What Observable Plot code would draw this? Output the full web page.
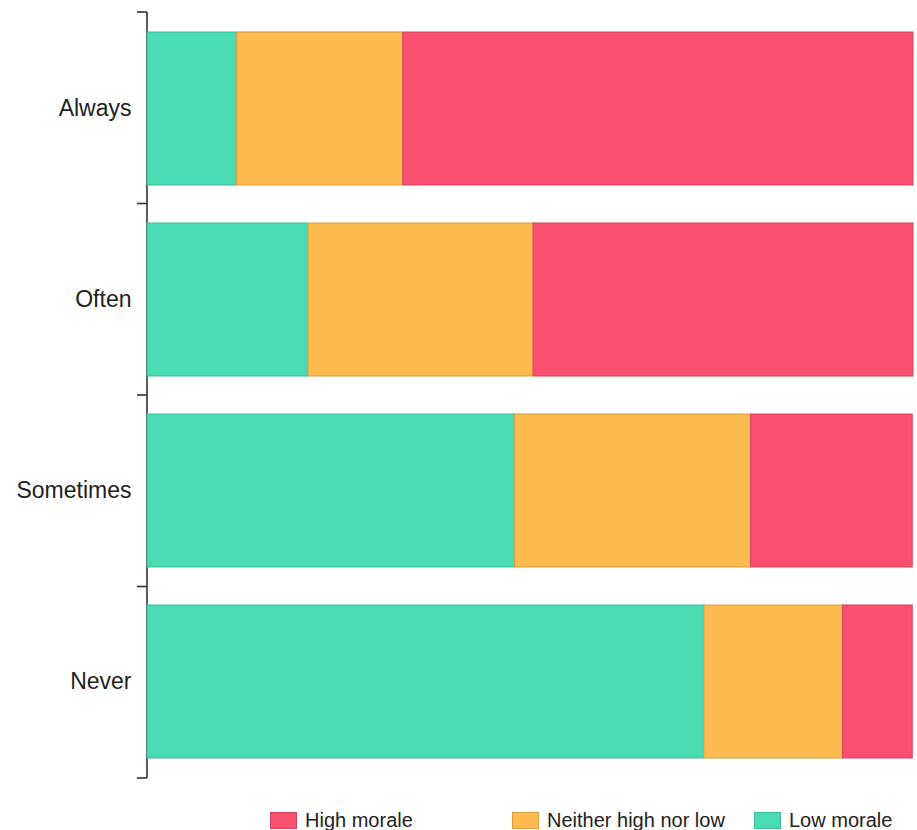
<!DOCTYPE html>
<html>
<head>
<meta charset="utf-8">
<script src="https://cdn.jsdelivr.net/npm/d3@7"></script>
<script src="https://cdn.jsdelivr.net/npm/@observablehq/plot@0.6"></script>
<style>
  html, body { margin: 0; padding: 0; background: #fff; }
  body { width: 917px; height: 830px; overflow: hidden; font-family: "Liberation Sans", Arial, sans-serif; }
  #legend { position: relative; height: 30px; }
  .item { position: absolute; top: 11px; display: flex; align-items: center; font-size: 20px; color: #222; line-height: 18px; }
  .sw { width: 27px; height: 17px; margin-right: 8px; box-sizing: border-box; }
</style>
</head>
<body>
<div id="chart"></div>
<div id="legend"></div>
<script>
const categories = ["Always", "Often", "Sometimes", "Never"];
const seriesNames = ["Low morale", "Neither high nor low", "High morale"];
const lowMorale = [11.7, 21.0, 48.0, 72.7];
const neitherHighNorLow = [21.7, 29.4, 30.8, 18.1];
const highMorale = [66.6, 49.6, 21.1, 9.1];
const colors = ["#4adbb5", "#fdba4e", "#f8506e"];
const legendOrder = ["High morale", "Neither high nor low", "Low morale"];

const seriesValues = [lowMorale, neitherHighNorLow, highMorale];
const data = [];
categories.forEach((c, i) => {
  seriesNames.forEach((s, j) => data.push({category: c, morale: s, value: seriesValues[j][i]}));
});
const strokeOf = s => d3.color(colors[seriesNames.indexOf(s)]).darker(0.45).formatHex();

function axisFrame(index, scales, values, dims) {
  const g = d3.create("svg:g");
  const top = dims.marginTop, bottom = dims.height - dims.marginBottom, left = dims.marginLeft;
  const n = categories.length;
  g.append("line").attr("x1", left).attr("x2", left).attr("y1", top).attr("y2", bottom)
    .attr("stroke", "#333").attr("stroke-width", 1.6);
  d3.range(n + 1).forEach(i => {
    const yy = top + i * (bottom - top) / n;
    g.append("line").attr("x1", left - 10).attr("x2", left).attr("y1", yy).attr("y2", yy)
      .attr("stroke", "#333").attr("stroke-width", 1.6);
  });
  return g.node();
}

const chart = Plot.plot({
  width: 917,
  height: 800,
  marginLeft: 147,
  marginRight: 4,
  marginTop: 12,
  marginBottom: 22,
  style: {fontFamily: "'Liberation Sans', Arial, sans-serif", fontSize: "23px", color: "#222", background: "#fff"},
  x: {domain: [0, 100], axis: null},
  y: {domain: categories, paddingInner: 0.2, paddingOuter: 0.1, label: null},
  color: {domain: seriesNames, range: colors},
  marks: [
    axisFrame,
    Plot.barX(data, Plot.stackX({
      x: "value", y: "category", fill: "morale",
      stroke: d => strokeOf(d.morale), strokeWidth: 1,
      order: seriesNames
    })),
    Plot.axisY({tickSize: 0, tickPadding: 16, fontSize: 23, label: null})
  ]
});
document.getElementById("chart").appendChild(chart);

const legend = document.getElementById("legend");
legendOrder.forEach((s, i) => {
  const item = document.createElement("div");
  item.className = "item";
  item.style.left = (270 + i * 242) + "px";
  const sw = document.createElement("div");
  sw.className = "sw";
  const col = colors[seriesNames.indexOf(s)];
  sw.style.background = col;
  sw.style.border = "1px solid " + strokeOf(s);
  const t = document.createElement("span");
  t.textContent = s;
  item.appendChild(sw);
  item.appendChild(t);
  legend.appendChild(item);
});
</script>
</body>
</html>
